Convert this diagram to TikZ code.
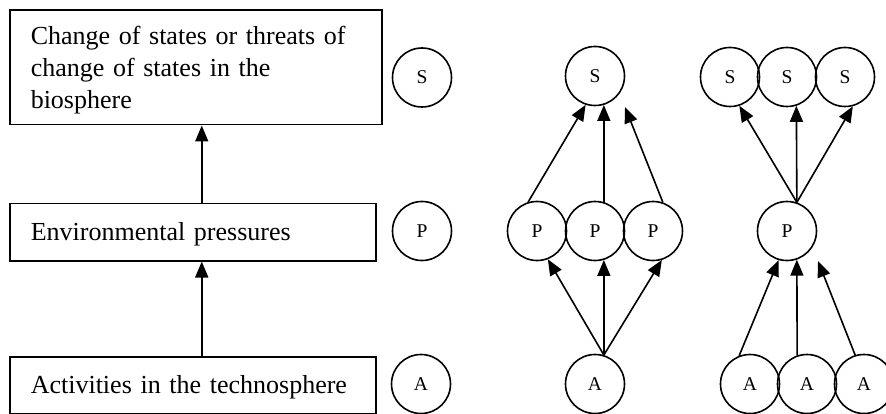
\documentclass[tikz,border=0pt]{standalone}
\usepackage{fontspec}
\setmainfont{Liberation Serif}
\usetikzlibrary{arrows.meta}
\begin{document}
\begin{tikzpicture}[x=1pt,y=-1pt,
  panel/.style={draw, line width=1.5pt, rectangle, anchor=north west,
    inner xsep=21pt, inner ysep=0pt, align=left,
    font=\fontsize{26}{32}\selectfont},
  ring/.style={draw, circle, line width=1.6pt, minimum size=59pt,
    inner sep=0pt, font=\fontsize{19.5}{20}\selectfont},
  flow/.style={line width=1.6pt, -{Triangle[length=16pt,width=13pt]}}]
\useasboundingbox (0,0) rectangle (886,414);

% left column: the three levels as text boxes
\node[panel, text width=330pt, text height=34.5pt, text depth=80pt]
  (stateBox) at (9,9.5) {Change of states or threats of\\change of states in the\\biosphere};
\node[panel, text width=324pt, text height=37pt, text depth=20pt]
  (pressBox) at (9,203) {Environmental pressures};
\node[panel, text width=324pt, text height=37pt, text depth=20pt]
  (actBox) at (9,356) {Activities in the technosphere};
\draw[flow] ([xshift=9pt]actBox.north) -- ([xshift=9pt]pressBox.south);
\draw[flow] ([xshift=9pt]pressBox.north) -- ([xshift=6pt]stateBox.south);

% symbols for the three levels
\node[ring] (s0) at (422,77.5) {S};
\node[ring] (p0) at (422,231) {P};
\node[ring] (a0) at (421,384) {A};

% one activity, several pressures, one state
\node[ring] (s1)  at (595,76)  {S};
\node[ring] (p1a) at (537,231) {P};
\node[ring] (p1b) at (595,231) {P};
\node[ring] (p1c) at (653,231) {P};
\node[ring] (a1)  at (595,384) {A};
\draw[flow] (a1.73) -- (p1a.-69);
\draw[flow] (a1.73) -- (p1b.-73);
\draw[flow] (a1.73) -- (p1c.-73);
\draw[flow] (p1a.107) -- (s1.-108);
\draw[flow] (p1b.73) -- (s1.-73);
\draw[flow] (p1c.71) -- ([shift={(30,31)}]s1.center);

% several activities, one pressure, several states
\node[ring] (s2a) at (730,77)  {S};
\node[ring] (s2b) at (787,77)  {S};
\node[ring] (s2c) at (845,77)  {S};
\node[ring] (p2)  at (787,231) {P};
\node[ring] (a2a) at (750,384) {A};
\node[ring] (a2b) at (807,384) {A};
\node[ring] (a2c) at (864,384) {A};
\draw[flow] (a2a.111) -- (p2.-106);
\draw[flow] (a2b.109) -- (p2.-71);
\draw[flow] (a2c.107) -- ([shift={(31,30)}]p2.center);
\draw[flow] (p2.71) -- (s2a.-72);
\draw[flow] (p2.71) -- (s2b.-72);
\draw[flow] (p2.71) -- (s2c.-75);
\end{tikzpicture}
\end{document}
